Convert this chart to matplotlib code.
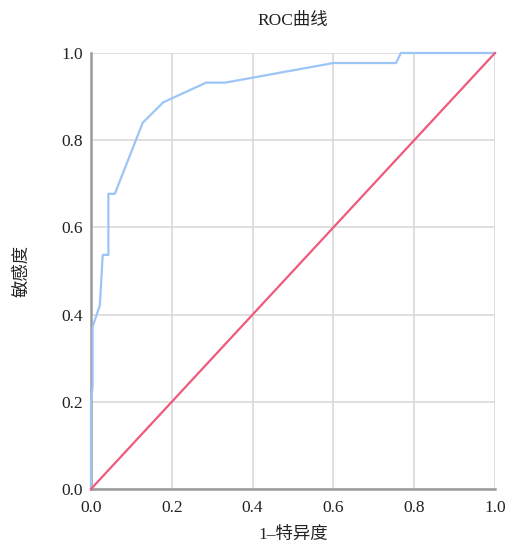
import matplotlib
matplotlib.use("Agg")
import matplotlib.pyplot as plt

fpr = [0.0, 0.0, 0.004, 0.004, 0.022, 0.029, 0.043, 0.043, 0.059, 0.128, 0.179, 0.285, 0.332, 0.60, 0.755, 0.767, 1.0]
tpr = [0.0, 0.197, 0.234, 0.372, 0.422, 0.537, 0.537, 0.677, 0.677, 0.840, 0.887, 0.932, 0.932, 0.977, 0.977, 1.0, 1.0]
ref_x = [0.0, 1.0]
ref_y = [0.0, 1.0]
ticks = [0.0, 0.2, 0.4, 0.6, 0.8, 1.0]
tick_labels = ["0.0", "0.2", "0.4", "0.6", "0.8", "1.0"]

plt.rcParams['font.family'] = ['Liberation Serif', 'Noto Sans CJK SC']

fig = plt.figure(figsize=(5.08, 5.43), dpi=100)
ax = fig.add_axes([91/508, 54/543, 404/508, 436/543])

ax.plot(fpr, tpr, color='#9cc5f6', lw=1.6, zorder=3, clip_on=False)
ax.plot(ref_x, ref_y, color='#ef5a7c', lw=1.6, zorder=3, clip_on=False)

ax.set_xlim(0, 1)
ax.set_ylim(0, 1)
ax.set_xticks(ticks)
ax.set_xticklabels(tick_labels)
ax.set_yticks(ticks)
ax.set_yticklabels(tick_labels)
ax.grid(True, color='#d9d9d9', lw=1.2)
ax.set_axisbelow(True)
for s in ['top', 'right']:
    ax.spines[s].set_visible(False)
for s in ['left', 'bottom']:
    ax.spines[s].set_color('#9a9a9a')
    ax.spines[s].set_linewidth(1.8)
ax.tick_params(length=0, labelsize=12.5, colors='#222222')
ax.tick_params(axis='x', pad=8)
ax.tick_params(axis='y', pad=6)

ax.set_title("ROC曲线", fontsize=12.5, color='#222222', pad=20)
ax.set_xlabel("1–特异度", fontsize=12.5, color='#222222', labelpad=8)
ax.set_ylabel("敏感度", fontsize=12.5, color='#222222', labelpad=22)

fig.savefig("out.png", dpi=100)
